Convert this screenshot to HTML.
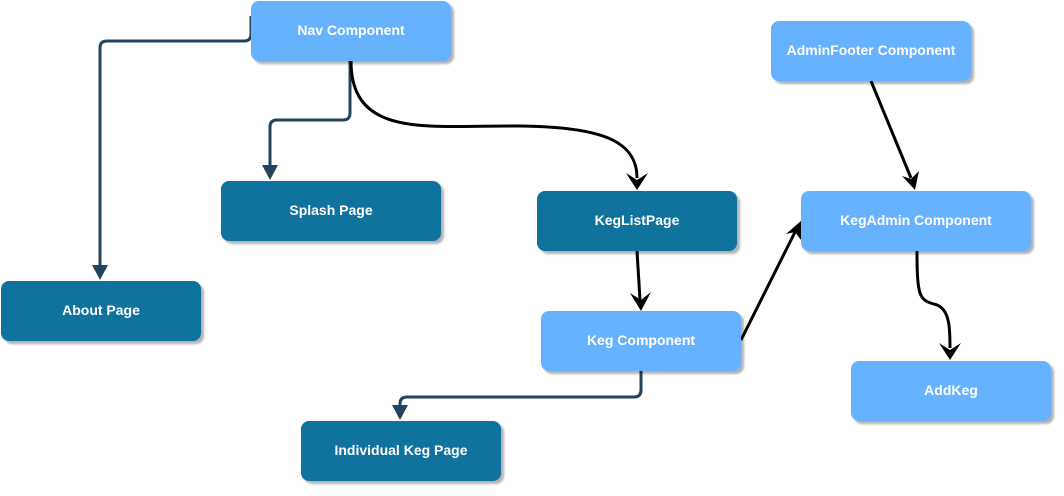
<!DOCTYPE html>
<html><head><style>
body{margin:0;width:1064px;height:496px;background:#fff;position:relative;overflow:hidden;font-family:"Liberation Sans",sans-serif}
.b{position:absolute;border-radius:8px;color:#fff;font-weight:bold;font-size:14px;display:flex;align-items:center;justify-content:center;box-shadow:3px 3px 2px rgba(0,0,0,0.3);box-sizing:border-box;padding-bottom:2px}
.l{background:#66b2ff}.d{background:#10739e}
svg{position:absolute;left:0;top:0}
</style></head><body>
<svg width="1064" height="496">
<g fill="none" stroke="#23445d" stroke-width="3" stroke-linejoin="round">
<path d="M251 16 V34 Q251 41 244 41 H107 Q100 41 100 48 V268"/>
<path d="M350 61 V113 Q350 120 343 120 H277 Q270 120 270 127 V168"/>
<path d="M641 371 V390 Q641 397 634 397 H407 Q400 397 400 404 V408"/>
</g>
<g fill="#23445d">
<polygon points="92,265 108,265 100,280"/>
<polygon points="262,165 278,165 270,180"/>
<polygon points="392,405 408,405 400,420"/>
</g>
<g fill="none" stroke="#000" stroke-width="3">
<path d="M351 61 C351 140 430 125 520 126 C600 127 637 140 637 178"/>
<path d="M637 251 L640 300"/>
<path d="M741 340 L795 232"/>
<path d="M871 81 L911 178"/>
<path d="M917 251 C917 300 920 300 937 305 C950 310 950 330 950 348"/>
</g>
<g fill="#000">
<polygon points="637,190 626,173 637,180 648,173"/>
<polygon points="641,311 630,293 641,300 651,292"/>
<polygon points="802,220 801,240 795,232 786,234"/>
<polygon points="915,190 902,176 911,179 919,171"/>
<polygon points="950,360 939,343 950,350 961,343"/>
</g>
</svg>
<div class="b l" style="left:251px;top:1px;width:200px;height:60px">Nav Component</div>
<div class="b d" style="left:221px;top:181px;width:220px;height:60px">Splash Page</div>
<div class="b d" style="left:1px;top:281px;width:200px;height:60px">About Page</div>
<div class="b d" style="left:537px;top:191px;width:200px;height:60px">KegListPage</div>
<div class="b l" style="left:541px;top:311px;width:200px;height:60px">Keg Component</div>
<div class="b d" style="left:301px;top:421px;width:200px;height:60px">Individual Keg Page</div>
<div class="b l" style="left:771px;top:21px;width:200px;height:60px">AdminFooter Component</div>
<div class="b l" style="left:801px;top:191px;width:230px;height:60px">KegAdmin Component</div>
<div class="b l" style="left:851px;top:361px;width:200px;height:60px">AddKeg</div>
</body></html>
